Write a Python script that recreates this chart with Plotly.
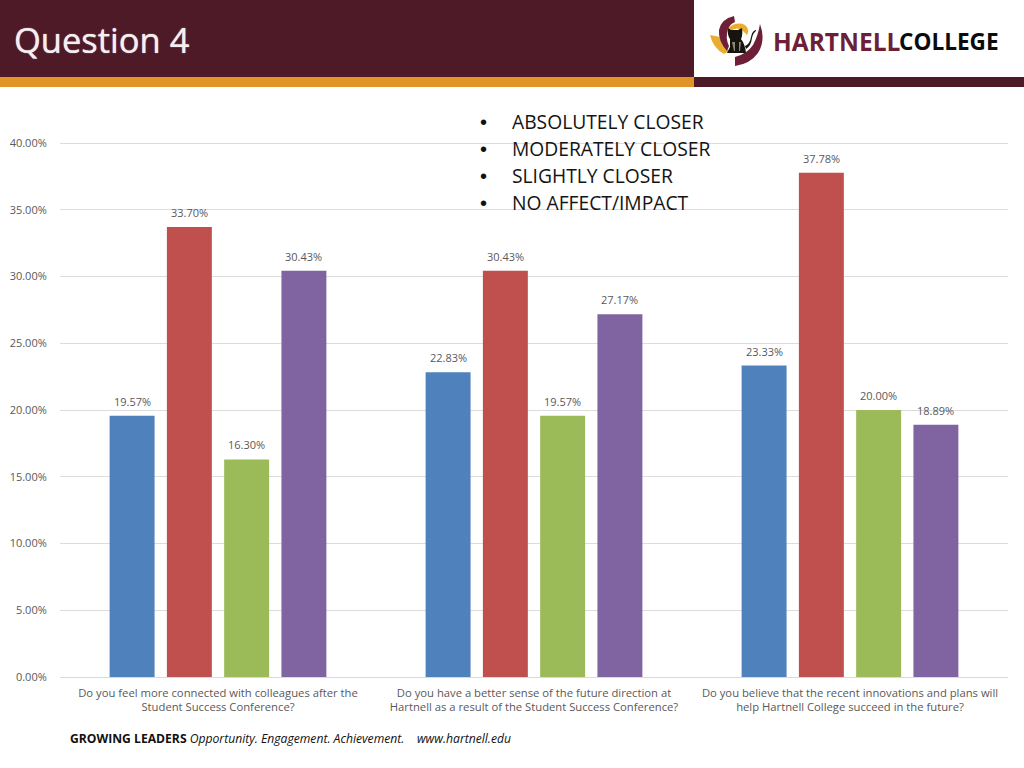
import plotly.graph_objects as go

W, H = 1024, 768
L, R, T, B = 60, 16, 141, 91

categories = [
    "Do you feel more connected with colleagues after the<br>Student Success Conference?",
    "Do you have a better sense of the future direction at<br>Hartnell as a result of the Student Success Conference?",
    "Do you believe that the recent innovations and plans will<br>help Hartnell College succeed in the future?",
]
absolutely_closer = [19.57, 22.83, 23.33]
moderately_closer = [33.70, 30.43, 37.78]
slightly_closer = [16.30, 19.57, 20.00]
no_affect = [30.43, 27.17, 18.89]
series_names = ["ABSOLUTELY CLOSER", "MODERATELY CLOSER", "SLIGHTLY CLOSER", "NO AFFECT/IMPACT"]
series_colors = ["#4F81BD", "#C0504D", "#9BBB59", "#8064A2"]
y_ticks = [0, 5, 10, 15, 20, 25, 30, 35, 40]
y_tick_labels = ["0.00%", "5.00%", "10.00%", "15.00%", "20.00%", "25.00%", "30.00%", "35.00%", "40.00%"]

PW, PH = W - L - R, H - T - B


def px(x):
    return (x - L) / PW


def py(y):
    return 1 - (y - T) / PH


def rect(x0, y0, x1, y1, color):
    return dict(type="rect", xref="paper", yref="paper", x0=px(x0), x1=px(x1), y0=py(y0), y1=py(y1),
                fillcolor=color, line=dict(width=0), layer="below")


def path(points, color):
    d = ""
    for cmd, *pts in points:
        d += cmd + " ".join(f"{px(pts[i]):.5f},{py(pts[i + 1]):.5f}" for i in range(0, len(pts), 2)) + " "
    return dict(type="path", xref="paper", yref="paper", path=d + "Z", fillcolor=color,
                line=dict(width=0), layer="above")


MAROON, GOLD = "#4E1A27", "#E29527"
LOGO_RED, LOGO_GOLD = "#6E1F38", "#E9AE2F"
CAT = "#17140F"

fig = go.Figure()
all_series = [absolutely_closer, moderately_closer, slightly_closer, no_affect]
for name, vals, col in zip(series_names, all_series, series_colors):
    fig.add_bar(x=categories, y=vals, name=name, marker=dict(color=col, line=dict(width=0)), showlegend=False)

shapes = [
    rect(0, 0, 694, 77, MAROON),
    rect(0, 77, 694, 87, GOLD),
    rect(694, 77, 1024, 87, MAROON),
    # logo: gold arcs
    path([("M", 710, 35), ("L", 720, 37), ("Q", 721, 46, 729, 51), ("L", 724, 54), ("Q", 713, 48, 710, 35)], LOGO_GOLD),
    path([("M", 728, 28), ("Q", 737, 21, 745, 25), ("Q", 750, 29, 747, 35), ("L", 743, 31), ("Q", 738, 26, 730, 31)], LOGO_GOLD),
    # logo: maroon arcs
    path([("M", 734, 16), ("Q", 721, 19, 719, 30), ("Q", 718, 41, 727, 51), ("L", 729, 46),
          ("Q", 725, 38, 728, 29), ("Q", 730, 24, 735, 22)], LOGO_RED),
    path([("M", 760, 24), ("Q", 766, 40, 758, 53), ("Q", 750, 64, 735, 66), ("L", 735, 57), ("Q", 747, 54, 753, 45),
          ("Q", 758, 36, 760, 24)], LOGO_RED),
    # logo: panther
    path([("M", 728, 28), ("L", 731, 30), ("L", 738, 30), ("L", 742, 28), ("Q", 743, 35, 741, 39), ("Q", 745, 44, 746, 53),
          ("L", 727, 53), ("L", 730, 47), ("Q", 730, 42, 730, 39), ("Q", 727, 35, 728, 28)], CAT),
    path([("M", 745, 46), ("Q", 750, 44, 751, 37), ("Q", 752, 31, 756, 30), ("L", 756, 31), ("Q", 753, 33, 752, 38),
          ("Q", 751, 46, 746, 49)], CAT),
    path([("M", 732, 42), ("L", 735, 42), ("L", 735, 51), ("L", 734, 51)], "#8A8678"),
    path([("M", 739, 42), ("L", 741, 42), ("L", 740, 51), ("L", 739, 51)], "#8A8678"),
]

annotations = [
    dict(text="Question 4", x=px(14), y=py(40), xanchor="left", yanchor="middle", showarrow=False,
         font=dict(family="Open Sans", size=34.5, color="#F5EEF0", shadow="0 0 1px #F5EEF0")),
    dict(text="<b>HARTNELL</b>", x=px(773), y=py(41), xanchor="left", yanchor="middle", showarrow=False,
         font=dict(family="Open Sans", size=24.5, color="#6E1F38")),
    dict(text="<b>COLLEGE</b>", x=px(899), y=py(41), xanchor="left", yanchor="middle", showarrow=False,
         font=dict(family="Open Sans", size=22.6, color="#0C0C0C")),
    dict(text="<b>GROWING LEADERS</b> <i>Opportunity. Engagement. Achievement.    www.hartnell.edu</i>",
         x=px(70), y=py(738), xanchor="left", yanchor="middle", showarrow=False,
         font=dict(family="Open Sans", size=12.15, color="#111111")),
]
for name, y in zip(series_names, [121.5, 148.5, 175.5, 202.5]):
    annotations.append(dict(text="•", x=px(483), y=py(y), xanchor="center", yanchor="middle", showarrow=False,
                            font=dict(family="Liberation Sans", size=20, color="#111111")))
    annotations.append(dict(text=name, x=px(512), y=py(y), xanchor="left", yanchor="middle", showarrow=False,
                            font=dict(family="Open Sans", size=19.25, color="#141414")))
for a in annotations:
    a.update(xref="paper", yref="paper", borderpad=0, borderwidth=0, align="left")

# Data labels sit a little higher above the bars than plotly's outside text, so they are annotations on the data axes.
for s, vals in enumerate(all_series):
    for c, v in enumerate(vals):
        annotations.append(dict(text=f"{v:.2f}%", xref="x", yref="y", x=c, y=v, xshift=(s - 1.5) * 57.3, yshift=14.5,
                                xanchor="center", yanchor="middle", showarrow=False, borderpad=0,
                                font=dict(family="Open Sans", size=11, color="#595959")))

fig.update_layout(
    width=W, height=H, margin=dict(l=L, r=R, t=T, b=B, pad=0, autoexpand=False),
    paper_bgcolor="white", plot_bgcolor="white",
    barmode="group", bargap=0.275, bargroupgap=0.215,
    shapes=shapes, annotations=annotations,
    font=dict(family="Open Sans", color="#595959"),
    xaxis=dict(type="category", range=[-0.5, 2.5], showgrid=False, showline=True, linecolor="#D9D9D9", linewidth=1,
               ticks="", tickangle=0, automargin=False, ticklabelstandoff=5,
               tickfont=dict(family="Open Sans", size=11.25, color="#595959")),
    yaxis=dict(range=[0, 40.15], tickvals=y_ticks, ticktext=y_tick_labels, showgrid=True, gridcolor="#DCDCDC",
               gridwidth=1, zeroline=False, ticks="outside", ticklen=10, tickcolor="rgba(0,0,0,0)", automargin=False,
               tickfont=dict(family="Open Sans", size=11, color="#595959")),
)

fig.write_html("out.html", config={"displayModeBar": False},
               post_script="document.body.style.margin='0';document.documentElement.style.overflow='hidden';")
